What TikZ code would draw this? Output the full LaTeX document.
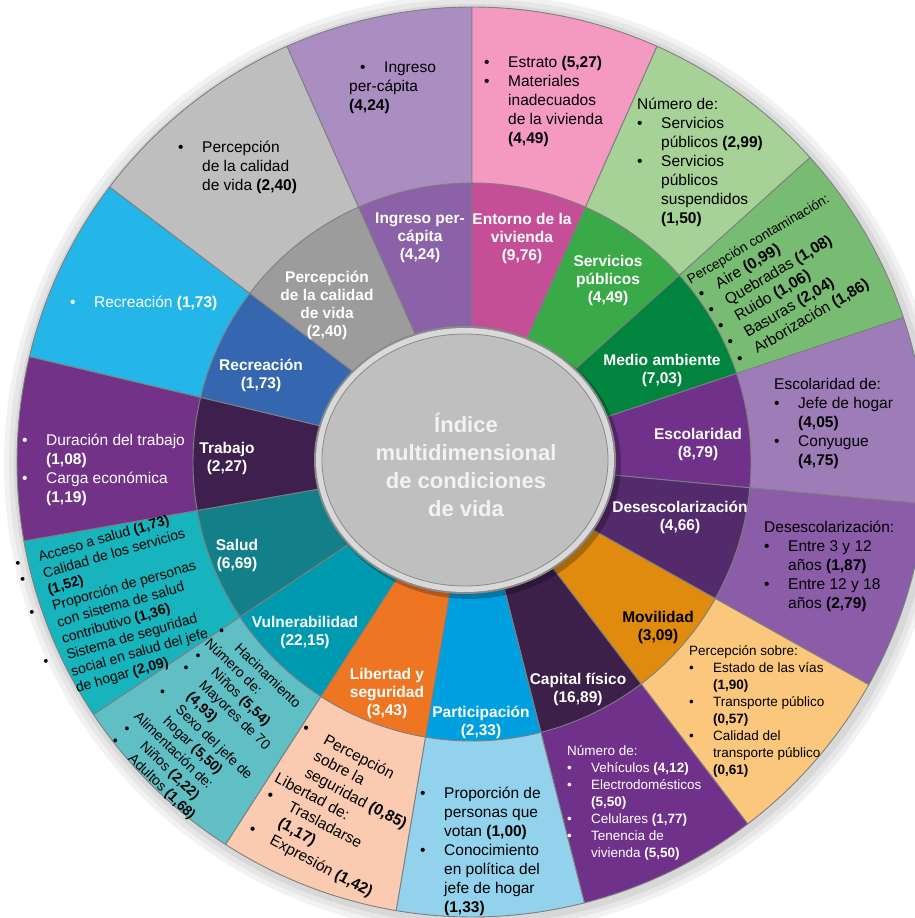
\documentclass[tikz,border=0pt]{standalone}
\usepackage{fontspec}
\setmainfont{Liberation Sans}
\usepackage{tikz}
\usetikzlibrary{positioning,calc}

\definecolor{sepgray}{HTML}{7F7F7F}
\definecolor{ingO}{HTML}{AA8DC1}
\definecolor{ingI}{HTML}{8B62A8}
\definecolor{entO}{HTML}{F49AC1}
\definecolor{entI}{HTML}{C54F97}
\definecolor{serO}{HTML}{A6D197}
\definecolor{serI}{HTML}{3AAA48}
\definecolor{medO}{HTML}{78BC73}
\definecolor{medI}{HTML}{00843E}
\definecolor{escO}{HTML}{9D7CB8}
\definecolor{escI}{HTML}{6F318A}
\definecolor{desO}{HTML}{8B5CA7}
\definecolor{desI}{HTML}{532A6B}
\definecolor{movO}{HTML}{FAC77C}
\definecolor{movI}{HTML}{E08A0E}
\definecolor{capO}{HTML}{70318A}
\definecolor{capI}{HTML}{3C2049}
\definecolor{parO}{HTML}{93D2EC}
\definecolor{parI}{HTML}{009FE0}
\definecolor{libO}{HTML}{FACBB0}
\definecolor{libI}{HTML}{EE7623}
\definecolor{vulO}{HTML}{5FBFC5}
\definecolor{vulI}{HTML}{009AB0}
\definecolor{salO}{HTML}{17B4BD}
\definecolor{salI}{HTML}{138089}
\definecolor{traO}{HTML}{713288}
\definecolor{traI}{HTML}{3E1F4D}
\definecolor{recO}{HTML}{25B6E9}
\definecolor{recI}{HTML}{3567B0}
\definecolor{perO}{HTML}{BEBEBE}
\definecolor{perI}{HTML}{9C9C9C}
\definecolor{discgray}{HTML}{BFBFBF}
\definecolor{discrim}{HTML}{D9D9D9}
\definecolor{discedge}{HTML}{8A8A8A}
\definecolor{centertext}{HTML}{F2F2F2}

\newcommand{\bul}[1][24pt]{\makebox[#1][l]{\textbullet}}
\newcommand{\ind}{\hspace*{24pt}}

\begin{document}
\begin{tikzpicture}[x=1pt,y=1pt,
					sector/.style={draw=sepgray, line width=0.9pt, line join=round},
					dimlabel/.style={
						text=white, align=center, inner sep=0pt,
						font=\bfseries\fontsize{15.5}{18}\selectfont
					},
					itemtext/.style={
						align=left, inner sep=0pt, anchor=north west,
						font=\fontsize{15.5}{19}\selectfont
					},
					smalltext/.style={itemtext, font=\fontsize{13.5}{17}\selectfont},
					tilttext/.style={itemtext, font=\fontsize{14}{17}\selectfont}
					]
					
					\useasboundingbox (-472,462) rectangle (443,-456);
					\clip (-472,462) rectangle (443,-456);
					
					% --- SOMBRA DEL CÍRCULO ---
					\fill[black, opacity=0.05] (2,-2) circle (470);
					\fill[black, opacity=0.05] (2,-2) circle (465);
					\fill[black, opacity=0.06] (2,-2) circle (460);
					
					% --- ANILLO EXTERIOR: variables ---
					\path[sector, fill=ingO] (0,0) -- (114:455) arc[start angle=114, end angle=90, radius=455] -- cycle;
					\path[sector, fill=entO] (0,0) -- (90:455) arc[start angle=90, end angle=66, radius=455] -- cycle;
					\path[sector, fill=serO] (0,0) -- (66:455) arc[start angle=66, end angle=42, radius=455] -- cycle;
					\path[sector, fill=medO] (0,0) -- (42:455) arc[start angle=42, end angle=18.5, radius=455] -- cycle;
					\path[sector, fill=escO] (0,0) -- (18.5:455) arc[start angle=18.5, end angle=-5.3, radius=455] -- cycle;
					\path[sector, fill=desO] (0,0) -- (-5.3:455) arc[start angle=-5.3, end angle=-29.3, radius=455] -- cycle;
					\path[sector, fill=movO] (0,0) -- (-29.3:455) arc[start angle=-29.3, end angle=-52.7, radius=455] -- cycle;
					\path[sector, fill=capO] (0,0) -- (-52.7:455) arc[start angle=-52.7, end angle=-75.7, radius=455] -- cycle;
					\path[sector, fill=parO] (0,0) -- (-75.7:455) arc[start angle=-75.7, end angle=-99.6, radius=455] -- cycle;
					\path[sector, fill=libO] (0,0) -- (-99.6:455) arc[start angle=-99.6, end angle=-122.8, radius=455] -- cycle;
					\path[sector, fill=vulO] (0,0) -- (-122.8:455) arc[start angle=-122.8, end angle=-146.3, radius=455] -- cycle;
					\path[sector, fill=salO] (0,0) -- (-146.3:455) arc[start angle=-146.3, end angle=-170, radius=455] -- cycle;
					\path[sector, fill=traO] (0,0) -- (190:455) arc[start angle=190, end angle=166.6, radius=455] -- cycle;
					\path[sector, fill=recO] (0,0) -- (166.6:455) arc[start angle=166.6, end angle=142.8, radius=455] -- cycle;
					\path[sector, fill=perO] (0,0) -- (142.8:455) arc[start angle=142.8, end angle=114, radius=455] -- cycle;
					
					% --- ANILLO INTERIOR: dimensiones ---
					\path[sector, fill=ingI] (0,0) -- (114:279) arc[start angle=114, end angle=90, radius=279] -- cycle;
					\path[sector, fill=entI] (0,0) -- (90:279) arc[start angle=90, end angle=66, radius=279] -- cycle;
					\path[sector, fill=serI] (0,0) -- (66:279) arc[start angle=66, end angle=42, radius=279] -- cycle;
					\path[sector, fill=medI] (0,0) -- (42:279) arc[start angle=42, end angle=18.5, radius=279] -- cycle;
					\path[sector, fill=escI] (0,0) -- (18.5:279) arc[start angle=18.5, end angle=-5.3, radius=279] -- cycle;
					\path[sector, fill=desI] (0,0) -- (-5.3:279) arc[start angle=-5.3, end angle=-29.3, radius=279] -- cycle;
					\path[sector, fill=movI] (0,0) -- (-29.3:279) arc[start angle=-29.3, end angle=-52.7, radius=279] -- cycle;
					\path[sector, fill=capI] (0,0) -- (-52.7:279) arc[start angle=-52.7, end angle=-75.7, radius=279] -- cycle;
					\path[sector, fill=parI] (0,0) -- (-75.7:279) arc[start angle=-75.7, end angle=-99.6, radius=279] -- cycle;
					\path[sector, fill=libI] (0,0) -- (-99.6:279) arc[start angle=-99.6, end angle=-122.8, radius=279] -- cycle;
					\path[sector, fill=vulI] (0,0) -- (-122.8:279) arc[start angle=-122.8, end angle=-146.3, radius=279] -- cycle;
					\path[sector, fill=salI] (0,0) -- (-146.3:279) arc[start angle=-146.3, end angle=-170, radius=279] -- cycle;
					\path[sector, fill=traI] (0,0) -- (190:279) arc[start angle=190, end angle=166.6, radius=279] -- cycle;
					\path[sector, fill=recI] (0,0) -- (166.6:279) arc[start angle=166.6, end angle=142.8, radius=279] -- cycle;
					\path[sector, fill=perI] (0,0) -- (142.8:279) arc[start angle=142.8, end angle=114, radius=279] -- cycle;
					
					% --- DISCO CENTRAL ---
					\fill[black, opacity=0.25] (-3,-2) ellipse [x radius=152, y radius=135];
					\fill[discedge] (-7,2) ellipse [x radius=151, y radius=134];
					\fill[discrim] (-7,2) ellipse [x radius=149, y radius=132];
					\fill[discgray, draw=discedge, line width=0.8pt] (-7,2) ellipse [x radius=143, y radius=126];
					\node[text=centertext, align=center, font=\bfseries\fontsize{22}{28}\selectfont] (indice) at (-6,-3)
						{Índice\\multidimensional\\de condiciones\\de vida};
					
					% --- ETIQUETAS DE DIMENSIONES ---
					\node[dimlabel] (ingIn) at (-52,224) {Ingreso per-\\cápita\\(4,24)};
					\node[dimlabel] (entIn) at (50,224) {Entorno de la\\vivienda\\(9,76)};
					\node[dimlabel] (serIn) at (136,182) {Servicios\\públicos\\(4,49)};
					\node[dimlabel] (medIn) at (190,92) {Medio ambiente\\(7,03)};
					\node[dimlabel] (escIn) at (226,18) {Escolaridad\\(8,79)};
					\node[dimlabel] (desIn) at (208,-55) {Desescolarización\\(4,66)};
					\node[dimlabel, text=black] (movIn) at (186,-165) {Movilidad\\(3,09)};
					\node[dimlabel] (capIn) at (106,-227) {Capital físico\\(16,89)};
					\node[dimlabel] (parIn) at (9,-260) {Participación\\(2,33)};
					\node[dimlabel] (libIn) at (-85,-231) {Libertad y\\seguridad\\(3,43)};
					\node[dimlabel] (vulIn) at (-167,-170) {Vulnerabilidad\\(22,15)};
					\node[dimlabel] (salIn) at (-235,-93) {Salud\\(6,69)};
					\node[dimlabel] (traIn) at (-245,4) {Trabajo\\(2,27)};
					\node[dimlabel] (recIn) at (-211,87) {Recreación\\(1,73)};
					\node[dimlabel] (perIn) at (-145,157) {Percepción\\de la calidad\\de vida\\(2,40)};
					
					% --- VARIABLES (ANILLO EXTERIOR) ---
					\node[itemtext] (ingOut) at (-123,403)
						{\strut\hspace*{11pt}\bul Ingreso\\per-cápita\\\textbf{(4,24)}};
					\node[itemtext] (entOut) at (12,408)
						{\strut\bul Estrato \textbf{(5,27)}\\\bul Materiales\\\ind inadecuados\\\ind de la vivienda\\\ind\textbf{(4,49)}};
					\node[itemtext] (serOut) at (165,366)
						{\strut Número de:\\\bul Servicios\\\ind públicos \textbf{(2,99)}\\\bul Servicios\\\ind públicos\\\ind suspendidos\\\ind\textbf{(1,50)}};
					\node[itemtext, rotate=30.6, font=\fontsize{15.5}{18.8}\selectfont] (medOut) at (211.7,189.2)
						{\strut{\fontsize{13.5}{18.8}\selectfont Percepción contaminación:}\\
						 \hspace*{2pt}\bul[20pt]Aire \textbf{(0,99)}\\
						 \hspace*{2pt}\bul[20pt]Quebradas \textbf{(1,08)}\\
						 \hspace*{2pt}\bul[20pt]Ruido \textbf{(1,06)}\\
						 \hspace*{2pt}\bul[20pt]Basuras \textbf{(2,04)}\\
						 \hspace*{2pt}\bul[20pt]Arborización \textbf{(1,86)}};
					\node[itemtext] (escOut) at (302,86)
						{\strut Escolaridad de:\\\bul Jefe de hogar\\\ind\textbf{(4,05)}\\\bul Conyugue\\\ind\textbf{(4,75)}};
					\node[itemtext] (desOut) at (292,-57)
						{\strut Desescolarización:\\\bul Entre 3 y 12\\\ind años \textbf{(1,87)}\\\bul Entre 12 y 18\\\ind años \textbf{(2,79)}};
					\node[smalltext] (movOut) at (217,-181)
						{\strut Percepción sobre:\\\bul Estado de las vías\\\ind\textbf{(1,90)}\\\bul Transporte público\\\ind\textbf{(0,57)}\\\bul Calidad del\\\ind transporte público\\\ind\textbf{(0,61)}};
					\node[smalltext, text=white] (capOut) at (95,-281)
						{\strut Número de:\\\bul Vehículos \textbf{(4,12)}\\\bul Electrodomésticos\\\ind\textbf{(5,50)}\\\bul Celulares \textbf{(1,77)}\\\bul Tenencia de\\\ind vivienda \textbf{(5,50)}};
					\node[itemtext] (parOut) at (-52,-323)
						{\strut\bul Proporción de\\\ind personas que\\\ind votan \textbf{(1,00)}\\\bul Conocimiento\\\ind en política del\\\ind jefe de hogar\\\ind\textbf{(1,33)}};
					\node[itemtext, rotate=-28] (libOut) at (-165.4,-257.4)
						{\strut\hspace*{1pt}\bul Percepción\\\ind sobre la\\\ind seguridad \textbf{(0,85)}\\Libertad de:\\\hspace*{1pt}\bul Trasladarse\\\ind\textbf{(1,17)}\\\hspace*{1pt}\bul Expresión \textbf{(1,42)}};
					\node[tilttext, rotate=-44] (vulOut) at (-247.8,-161.3)
						{\strut\hspace*{1pt}\bul Hacinamiento\\Número de:\\\hspace*{1pt}\bul Niños \textbf{(5,54)}\\\hspace*{1pt}\bul Mayores de 70\\\ind\textbf{(4,93)}\\\hspace*{1pt}\bul Sexo del jefe de\\\ind hogar \textbf{(5,50)}\\Alimentación de:\\\hspace*{1pt}\bul Niños \textbf{(2,22)}\\\hspace*{1pt}\bul Adultos \textbf{(1,68)}};
					\node[tilttext, rotate=16] (salOut) at (-458.7,-94.7)
						{\strut\bul Acceso a salud \textbf{(1,73)}\\\bul Calidad de los servicios\\\ind\textbf{(1,52)}\\\bul Proporción de personas\\\ind con sistema de salud\\\ind contributivo \textbf{(1,36)}\\\bul Sistema de seguridad\\\ind social en salud del jefe\\\ind de hogar \textbf{(2,09)}};
					\node[itemtext, text=white] (traOut) at (-450,30)
						{\strut\bul Duración del trabajo\\\ind\textbf{(1,08)}\\\bul Carga económica\\\ind\textbf{(1,19)}};
					\node[itemtext, text=white] (recOut) at (-402,168)
						{\strut\bul Recreación \textbf{(1,73)}};
					\node[itemtext] (perOut) at (-294,323)
						{\strut\bul Percepción\\\ind de la calidad\\\ind de vida \textbf{(2,40)}};
					
				\end{tikzpicture}
\end{document}
